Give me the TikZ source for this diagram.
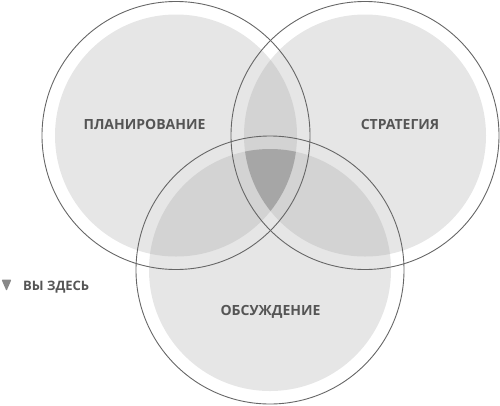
\documentclass[tikz,border=0pt]{standalone}
\usepackage{fontspec}
\setmainfont{Open Sans}
\definecolor{cOne}{HTML}{E6E6E6}
\definecolor{cTwo}{HTML}{D3D3D3}
\definecolor{cThree}{HTML}{A6A6A6}
\definecolor{cLine}{HTML}{666666}
\definecolor{cText}{HTML}{555555}
\definecolor{cMark}{HTML}{888888}
\begin{document}
\begin{tikzpicture}[x=1pt,y=-1pt,
  ring/.style={draw=cLine,line width=0.9pt},
  label/.style={text=cText,font=\bfseries\fontsize{14}{16}\selectfont,anchor=base,inner sep=0pt},
  small/.style={text=cText,font=\bfseries\fontsize{13}{15}\selectfont,anchor=base west,inner sep=0pt}]
\useasboundingbox (0,0) rectangle (500,405);
\def\rf{121}
\def\ro{134}
\coordinate (L) at (176,135.5);
\coordinate (R) at (365,135.5);
\coordinate (B) at (270,270);
% single fills
\fill[cOne] (L) circle[radius=\rf];
\fill[cOne] (R) circle[radius=\rf];
\fill[cOne] (B) circle[radius=\rf];
% pairwise
\begin{scope}\clip (L) circle[radius=\rf]; \fill[cTwo] (R) circle[radius=\rf]; \fill[cTwo] (B) circle[radius=\rf];\end{scope}
\begin{scope}\clip (R) circle[radius=\rf]; \fill[cTwo] (B) circle[radius=\rf];\end{scope}
% triple
\begin{scope}\clip (L) circle[radius=\rf]; \clip (R) circle[radius=\rf]; \fill[cThree] (B) circle[radius=\rf];\end{scope}
% outlines
\draw[ring] (L) circle[radius=\ro];
\draw[ring] (R) circle[radius=\ro];
\draw[ring] (B) circle[radius=\ro];
% labels
\node[label] (plan) at (144.5,129) {ПЛАНИРОВАНИЕ};
\node[label] (strat) at (400,129) {СТРАТЕГИЯ};
\node[label] (disc) at (270.5,315) {ОБСУЖДЕНИЕ};
\fill[cMark,rounded corners=1pt] (1.5,279.5) -- (11.5,279.5) -- (6.5,291) -- cycle;
\node[small] (here) at (23,290) {ВЫ ЗДЕСЬ};
\end{tikzpicture}
\end{document}
